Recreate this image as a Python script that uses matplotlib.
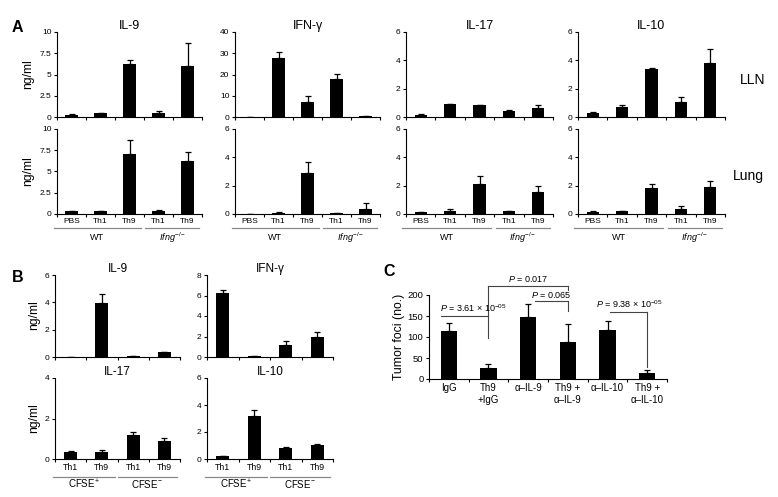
import numpy as np
import matplotlib.pyplot as plt
import matplotlib.transforms as transforms

plt.rcParams["font.family"] = ["Liberation Sans", "DejaVu Sans"]
plt.rcParams["mathtext.fontset"] = "custom"
plt.rcParams["mathtext.rm"] = "Liberation Sans"
plt.rcParams["mathtext.it"] = "Liberation Sans:italic"
plt.rcParams["mathtext.bf"] = "Liberation Sans:bold"

W, H = 778, 497

# ---- panel A: LLN (top) and lung (bottom), ng/ml
a_cats = ["PBS", "Th1", "Th9", "Th1", "Th9"]
a_names = ["IL-9", "IFN-γ", "IL-17", "IL-10"]
a_groups = ["WT", r"$\mathit{Ifng}^{-/-}$"]

lln_il9 = [0.25, 0.45, 6.2, 0.5, 6.0]
lln_il9_err = [0.05, 0.05, 0.45, 0.15, 2.75]
lln_ifng = [0.15, 27.7, 7.1, 17.7, 0.4]
lln_ifng_err = [0.0, 2.7, 2.7, 2.4, 0.0]
lln_il17 = [0.15, 0.9, 0.83, 0.43, 0.62]
lln_il17_err = [0.05, 0.02, 0.05, 0.04, 0.23]
lln_il10 = [0.28, 0.7, 3.36, 1.05, 3.84]
lln_il10_err = [0.05, 0.17, 0.12, 0.37, 0.96]

lung_il9 = [0.35, 0.3, 7.0, 0.4, 6.2]
lung_il9_err = [0.03, 0.03, 1.7, 0.12, 1.1]
lung_ifng = [0.02, 0.08, 2.9, 0.04, 0.33]
lung_ifng_err = [0.0, 0.05, 0.75, 0.0, 0.45]
lung_il17 = [0.13, 0.22, 2.13, 0.18, 1.58]
lung_il17_err = [0.02, 0.16, 0.57, 0.04, 0.42]
lung_il10 = [0.15, 0.2, 1.87, 0.38, 1.9]
lung_il10_err = [0.03, 0.02, 0.26, 0.19, 0.4]

lln_ticks = [["0", "2.5", "5", "7.5", "10"], ["0", "10", "20", "30", "40"],
             ["0", "2", "4", "6"], ["0", "2", "4", "6"]]
lung_ticks = [["0", "2.5", "5", "7.5", "10"], ["0", "2", "4", "6"],
              ["0", "2", "4", "6"], ["0", "2", "4", "6"]]

# ---- panel B: CFSE sorted cells, ng/ml
b_cats = ["Th1", "Th9", "Th1", "Th9"]
b_names = ["IL-9", "IFN-γ", "IL-17", "IL-10"]
b_groups = [r"CFSE$^{+}$", r"CFSE$^{-}$"]
b_il9 = [0.02, 3.93, 0.04, 0.33]
b_il9_err = [0.0, 0.65, 0.0, 0.02]
b_ifng = [6.2, 0.05, 1.15, 2.0]
b_ifng_err = [0.3, 0.0, 0.4, 0.45]
b_il17 = [0.36, 0.33, 1.18, 0.91]
b_il17_err = [0.05, 0.11, 0.13, 0.12]
b_il10 = [0.19, 3.22, 0.78, 1.04]
b_il10_err = [0.02, 0.41, 0.12, 0.05]
b_ticks = [["0", "2", "4", "6"], ["0", "2", "4", "6", "8"],
           ["0", "2", "4"], ["0", "2", "4", "6"]]

# ---- panel C: tumor foci
c_cats = ["IgG", "Th9\n+IgG", "α–IL-9", "Th9 +\nα–IL-9", "α–IL-10", "Th9 +\nα–IL-10"]
c_foci = [113.5, 26, 147, 88, 117.5, 13.5]
c_foci_err = [19, 10, 31.5, 43, 19.5, 8.5]
c_ticks = ["0", "50", "100", "150", "200"]
# (x0, x1, y, left drop to, right drop to, text, text x, text y, align)
c_brackets = [
    (-0.19, 1.0, 151, None, 98, r"$\mathit{P}$ = 3.61 × 10$^{-05}$", -0.22, 155, "left"),
    (1.0, 3.0, 222, 151, 212, r"$\mathit{P}$ = 0.017", 2.0, 226, "center"),
    (2.17, 3.0, 185, None, 163, r"$\mathit{P}$ = 0.065", 2.58, 189, "center"),
    (4.07, 5.0, 159, None, 29, r"$\mathit{P}$ = 9.38 × 10$^{-05}$", 3.7, 164, "left"),
]

fig = plt.figure(figsize=(W / 100, H / 100), dpi=100)


def px_axes(x0, y0, x1, y1):
    return fig.add_axes([x0 / W, 1 - y1 / H, (x1 - x0) / W, (y1 - y0) / H])


def fig_text(x, y, s, **kw):
    fig.text(x / W, 1 - y / H, s, **kw)


def draw_bars(ax, vals, errs, ticklabels, cats, xfs=6, yfs=6):
    n = len(vals)
    x = np.arange(n)
    ax.bar(x, vals, width=0.42, color="black",
           yerr=[np.zeros(n), errs],
           error_kw=dict(ecolor="black", elinewidth=0.9, capsize=2.3, capthick=0.9))
    ax.set_xlim(-0.5, n - 0.5)
    yt = [float(t) for t in ticklabels]
    ax.set_ylim(0, yt[-1])
    ax.set_yticks(yt)
    ax.set_yticklabels(ticklabels, fontsize=yfs)
    ax.set_xticks(np.arange(n + 1) - 0.5)
    ax.set_xticklabels([])
    ax.set_xticks(x, minor=True)
    if cats is not None:
        ax.set_xticklabels(cats, minor=True, fontsize=xfs)
    ax.tick_params(axis="x", which="minor", length=0, pad=3)
    ax.tick_params(axis="x", which="major", length=2.5, width=0.8, direction="out")
    ax.tick_params(axis="y", length=2.5, width=0.8, direction="out", pad=1.5)
    for side in ["top", "right"]:
        ax.spines[side].set_visible(False)
    for side in ["left", "bottom"]:
        ax.spines[side].set_linewidth(0.8)


def draw_groups(ax, spans, labels, line_off, text_off, fs):
    tl = transforms.offset_copy(ax.get_xaxis_transform(), fig=fig, y=-line_off, units="dots")
    tt = transforms.offset_copy(ax.get_xaxis_transform(), fig=fig, y=-text_off, units="dots")
    for (x0, x1), lab in zip(spans, labels):
        ax.plot([x0, x1], [0, 0], color="#888888", lw=0.9, transform=tl, clip_on=False)
        ax.text((x0 + x1) / 2, 0, lab, transform=tt, ha="center", va="center", fontsize=fs)


# panel A
a_cols = [(57, 202), (235, 380), (406, 553), (578, 725)]
lln_data = [(lln_il9, lln_il9_err), (lln_ifng, lln_ifng_err),
            (lln_il17, lln_il17_err), (lln_il10, lln_il10_err)]
lung_data = [(lung_il9, lung_il9_err), (lung_ifng, lung_ifng_err),
             (lung_il17, lung_il17_err), (lung_il10, lung_il10_err)]
for i, (x0, x1) in enumerate(a_cols):
    ax = px_axes(x0, 32, x1, 117)
    draw_bars(ax, lln_data[i][0], lln_data[i][1], lln_ticks[i], None)
    ax.set_title(a_names[i], fontsize=9, pad=0.5)
    ax = px_axes(x0, 129, x1, 214)
    draw_bars(ax, lung_data[i][0], lung_data[i][1], lung_ticks[i], a_cats)
    draw_groups(ax, [(-0.62, 2.38), (2.55, 4.4)], a_groups, 14, 24, 6.5)

# panel B
b_data = [(b_il9, b_il9_err), (b_ifng, b_ifng_err), (b_il17, b_il17_err), (b_il10, b_il10_err)]
b_boxes = [(55, 275, 180, 357), (207, 275, 333, 357), (55, 378, 180, 459), (207, 378, 333, 459)]
for i, box in enumerate(b_boxes):
    ax = px_axes(*box)
    bottom = i >= 2
    draw_bars(ax, b_data[i][0], b_data[i][1], b_ticks[i], b_cats if bottom else None,
              xfs=6.3, yfs=6)
    ax.set_title(b_names[i], fontsize=8.5, pad=-1)
    if bottom:
        draw_groups(ax, [(-0.56, 1.42), (1.5, 3.4)], b_groups, 18, 25, 7)

# panel C
ax = px_axes(429, 295, 667, 379)
draw_bars(ax, c_foci, c_foci_err, c_ticks, c_cats, xfs=7, yfs=6.8)
ax.tick_params(axis="x", which="minor", pad=3)
for x0, x1, y, ld, rd, lab, tx, ty, ha in c_brackets:
    ax.plot([x0, x1], [y, y], color="#444444", lw=0.8, clip_on=False)
    if ld is not None:
        ax.plot([x0, x0], [y, ld], color="#444444", lw=0.8, clip_on=False)
    ax.plot([x1, x1], [y, rd], color="#444444", lw=0.8, clip_on=False)
    ax.text(tx, ty, lab, ha=ha, va="bottom", fontsize=6.5, clip_on=False)

# labels
fig_text(28, 74, "ng/ml", rotation=90, ha="center", va="center", fontsize=8.7)
fig_text(28, 171, "ng/ml", rotation=90, ha="center", va="center", fontsize=8.7)
fig_text(34, 315, "ng/ml", rotation=90, ha="center", va="center", fontsize=8.7)
fig_text(34, 418, "ng/ml", rotation=90, ha="center", va="center", fontsize=8.7)
fig_text(399, 337, "Tumor foci (no.)", rotation=90, ha="center", va="center", fontsize=8.8)
fig_text(740, 80, "LLN", ha="left", va="center", fontsize=10)
fig_text(733, 176, "Lung", ha="left", va="center", fontsize=10)
fig_text(12, 27, "A", ha="left", va="center", fontsize=11.5, fontweight="bold")
fig_text(12, 277, "B", ha="left", va="center", fontsize=11.5, fontweight="bold")
fig_text(383, 271, "C", ha="left", va="center", fontsize=11.5, fontweight="bold")

fig.savefig("out.png", dpi=100)
